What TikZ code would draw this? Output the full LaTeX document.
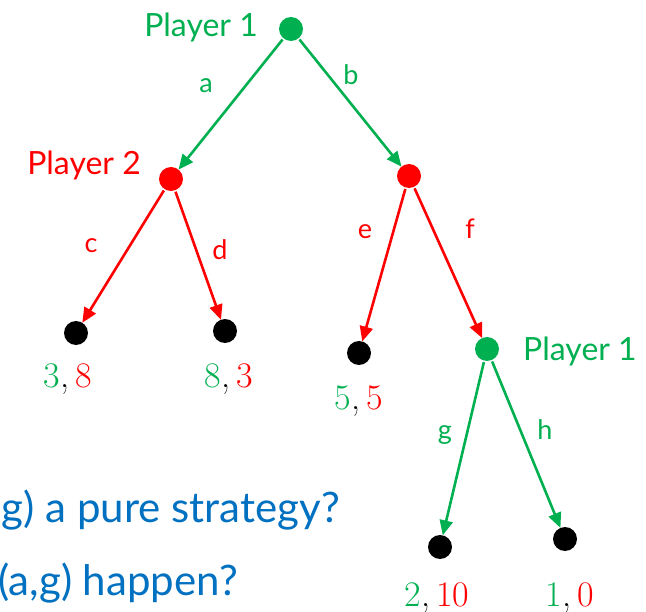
\documentclass[tikz,border=0pt]{standalone}
\usepackage{fontspec}
\newfontfamily\gill{Lato}
\usetikzlibrary{arrows.meta}
\definecolor{pg}{HTML}{00B050}
\definecolor{pr}{HTML}{FF0000}
\definecolor{pb}{HTML}{0070C0}
\begin{document}
\begin{tikzpicture}[x=1pt,y=-1pt,
 dot/.style={circle, minimum size=24pt, inner sep=0pt, outer sep=0pt, fill=#1},
 edge/.style={draw=#1, line width=2.6pt, shorten <=1.5pt, -{Triangle[length=15pt,width=13pt]}},
 lab/.style={text=#1, font=\gill\fontsize{27}{30}\selectfont, inner sep=0pt, anchor=base},
 who/.style={text=#1, font=\gill\fontsize{32}{36}\selectfont, inner sep=0pt},
 pay/.style={font=\fontsize{36}{40}\selectfont, inner sep=0pt, anchor=base},
 quest/.style={text=pb, font=\gill\fontsize{42}{46}\selectfont, inner sep=0pt, anchor=base east}]
\path[use as bounding box] (0,0) rectangle (646,612);
\clip (0,0) rectangle (646,612);
% decision and terminal nodes
\node[dot=pg] (root) at (291,29) {};
\node[dot=pr] (p2l) at (171,179) {};
\node[dot=pr] (p2r) at (409,176) {};
\node[dot=black] (l1) at (76,333) {};
\node[dot=black] (l2) at (225,331) {};
\node[dot=black] (l3) at (359,353) {};
\node[dot=pg] (p1b) at (487,349) {};
\node[dot=black] (l4) at (440,547) {};
\node[dot=black] (l5) at (565,539) {};
% edges
\draw[edge=pg] (root) -- (p2l);
\draw[edge=pg] (root) -- (p2r);
\draw[edge=pr] (p2l) -- (l1);
\draw[edge=pr] (p2l) -- (l2);
\draw[edge=pr] (p2r) -- (l3);
\draw[edge=pr] (p2r) -- (p1b);
\draw[edge=pg] (p1b) -- (l4);
\draw[edge=pg] (p1b) -- (l5);
% edge labels
\node[lab=pg] (la) at (206,93) {a};
\node[lab=pg] (lb) at (351,85) {b};
\node[lab=pr] (lc) at (91,253) {c};
\node[lab=pr] (ld) at (220,260) {d};
\node[lab=pr] (le) at (365,239) {e};
\node[lab=pr] (lf) at (470,239) {f};
\node[lab=pg] (lg) at (445,440) {g};
\node[lab=pg] (lh) at (545,440) {h};
% player labels
\node[who=pg, anchor=base east] (w1) at (258,37) {Player 1};
\node[who=pr, anchor=base east] (w2) at (141,175) {Player 2};
\node[who=pg, anchor=base west] (w3) at (523,361) {Player 1};
% payoffs
\node[pay] (y1) at (68,388) {\textcolor{pg}{3},\,\textcolor{pr}{8}};
\node[pay] (y2) at (229,388) {\textcolor{pg}{8},\,\textcolor{pr}{3}};
\node[pay] (y3) at (359,410) {\textcolor{pg}{5},\,\textcolor{pr}{5}};
\node[pay] (y4) at (437,606) {\textcolor{pg}{2},\,\textcolor{pr}{10}};
\node[pay] (y5) at (570,606) {\textcolor{pg}{1},\,\textcolor{pr}{0}};
% questions
\node[quest] (q1) at (340,522) {g) a pure strategy?};
\node[quest] (q2) at (238,595) {(a,g) happen?};
\end{tikzpicture}
\end{document}
